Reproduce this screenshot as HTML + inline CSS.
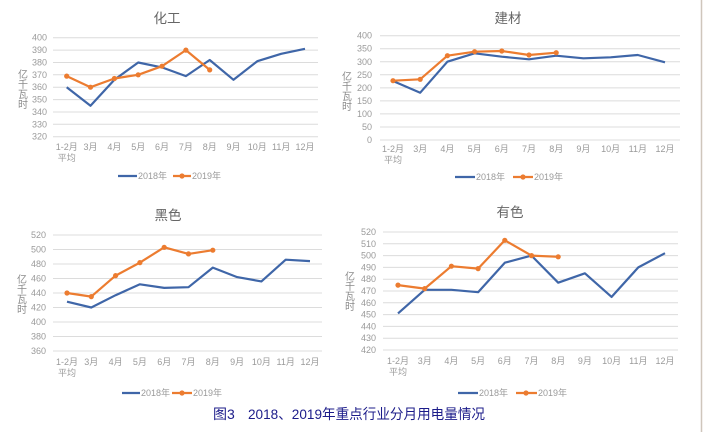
<!DOCTYPE html>
<html><head><meta charset="utf-8"><style>
html,body{margin:0;padding:0;background:#fff;}
svg{display:block;}
text{font-family:"Liberation Sans","Noto Sans CJK SC",sans-serif;}
.t{font-size:9px;fill:#9a9a9a;}
.ti{font-size:13.5px;fill:#666;}
.yt{font-size:10px;fill:#8a8a8a;}
.g{stroke:#dcdcdc;stroke-width:1;}
.b{fill:none;stroke:#3f66a8;stroke-width:2.2;stroke-linejoin:round;}
.o{fill:none;stroke:#ec7c30;stroke-width:2.2;stroke-linejoin:round;}
.m{fill:#ec7c30;}
</style></head><body>
<svg width="705" height="432" viewBox="0 0 705 432" xmlns="http://www.w3.org/2000/svg">
<rect width="705" height="432" fill="#fff"/>
<line x1="701.5" y1="0" x2="701.5" y2="432" stroke="#cfc6bc" stroke-width="1.5"/>

<!-- Panel 1 化工 -->
<text class="ti" x="167" y="23" text-anchor="middle">化工</text>
<g>
<line class="g" x1="53" x2="318" y1="37.7" y2="37.7"/><line class="g" x1="53" x2="318" y1="50.1" y2="50.1"/><line class="g" x1="53" x2="318" y1="62.5" y2="62.5"/><line class="g" x1="53" x2="318" y1="74.8" y2="74.8"/><line class="g" x1="53" x2="318" y1="87.2" y2="87.2"/><line class="g" x1="53" x2="318" y1="99.6" y2="99.6"/><line class="g" x1="53" x2="318" y1="112" y2="112"/><line class="g" x1="53" x2="318" y1="124.3" y2="124.3"/><line class="g" x1="53" x2="318" y1="136.7" y2="136.7"/>
</g>
<g class="t" text-anchor="end">
<text x="47" y="40.7">400</text><text x="47" y="53.1">390</text><text x="47" y="65.5">380</text><text x="47" y="77.8">370</text><text x="47" y="90.2">360</text><text x="47" y="102.6">350</text><text x="47" y="115">340</text><text x="47" y="127.3">330</text><text x="47" y="139.7">320</text>
</g>
<g class="yt" text-anchor="middle"><text x="23" y="78">亿</text><text x="23" y="88">千</text><text x="23" y="98">瓦</text><text x="23" y="108">时</text></g>
<g class="t" text-anchor="middle">
<text x="66.7" y="150">1-2月</text><text x="66.7" y="161">平均</text><text x="90.5" y="150">3月</text><text x="114.4" y="150">4月</text><text x="138.2" y="150">5月</text><text x="162" y="150">6月</text><text x="185.9" y="150">7月</text><text x="209.7" y="150">8月</text><text x="233.5" y="150">9月</text><text x="257.3" y="150">10月</text><text x="281.2" y="150">11月</text><text x="305" y="150">12月</text>
</g>
<polyline class="b" points="66.7,87.2 90.5,105.8 114.4,79.8 138.2,62.5 162,67.4 185.9,76.1 209.7,60 233.5,79.8 257.3,61.2 281.2,53.8 305,48.8"/>
<polyline class="o" points="66.7,76.1 90.5,87.2 114.4,78.5 138.2,74.8 162,66.2 185.9,50.1 209.7,69.9"/>
<g class="m"><circle cx="66.7" cy="76.1" r="2.6"/><circle cx="90.5" cy="87.2" r="2.6"/><circle cx="114.4" cy="78.5" r="2.6"/><circle cx="138.2" cy="74.8" r="2.6"/><circle cx="162" cy="66.2" r="2.6"/><circle cx="185.9" cy="50.1" r="2.6"/><circle cx="209.7" cy="69.9" r="2.6"/></g>
<line x1="118" x2="137" y1="176" y2="176" stroke="#3f66a8" stroke-width="2.2"/>
<text class="t" x="138" y="179">2018年</text>
<line x1="173" x2="191" y1="176" y2="176" stroke="#ec7c30" stroke-width="2.2"/><circle class="m" cx="182" cy="176" r="2.6"/>
<text class="t" x="192" y="179">2019年</text>

<!-- Panel 2 建材 -->
<text class="ti" x="508" y="23" text-anchor="middle">建材</text>
<g>
<line class="g" x1="380" x2="680" y1="35.7" y2="35.7"/><line class="g" x1="380" x2="680" y1="48.7" y2="48.7"/><line class="g" x1="380" x2="680" y1="61.8" y2="61.8"/><line class="g" x1="380" x2="680" y1="74.8" y2="74.8"/><line class="g" x1="380" x2="680" y1="87.9" y2="87.9"/><line class="g" x1="380" x2="680" y1="100.9" y2="100.9"/><line class="g" x1="380" x2="680" y1="113.9" y2="113.9"/><line class="g" x1="380" x2="680" y1="127" y2="127"/><line class="g" x1="380" x2="680" y1="140" y2="140"/>
</g>
<g class="t" text-anchor="end">
<text x="372" y="38.7">400</text><text x="372" y="51.7">350</text><text x="372" y="64.8">300</text><text x="372" y="77.8">250</text><text x="372" y="90.9">200</text><text x="372" y="103.9">150</text><text x="372" y="116.9">100</text><text x="372" y="130">50</text><text x="372" y="143">0</text>
</g>
<g class="yt" text-anchor="middle"><text x="347" y="80">亿</text><text x="347" y="90">千</text><text x="347" y="100">瓦</text><text x="347" y="110">时</text></g>
<g class="t" text-anchor="middle">
<text x="393" y="152">1-2月</text><text x="393" y="163">平均</text><text x="420.2" y="152">3月</text><text x="447.4" y="152">4月</text><text x="474.6" y="152">5月</text><text x="501.8" y="152">6月</text><text x="529" y="152">7月</text><text x="556.2" y="152">8月</text><text x="583.4" y="152">9月</text><text x="610.6" y="152">10月</text><text x="637.8" y="152">11月</text><text x="665" y="152">12月</text>
</g>
<polyline class="b" points="393,81 420.2,92.7 447.4,61.7 474.6,53.3 501.8,56.7 529,59.3 556.2,55.7 583.4,58.3 610.6,57.3 637.8,55 665,62.3"/>
<polyline class="o" points="393,80.7 420.2,79.3 447.4,55.7 474.6,51.7 501.8,51 529,55 556.2,52.7"/>
<g class="m"><circle cx="393" cy="80.7" r="2.6"/><circle cx="420.2" cy="79.3" r="2.6"/><circle cx="447.4" cy="55.7" r="2.6"/><circle cx="474.6" cy="51.7" r="2.6"/><circle cx="501.8" cy="51" r="2.6"/><circle cx="529" cy="55" r="2.6"/><circle cx="556.2" cy="52.7" r="2.6"/></g>
<line x1="455" x2="475" y1="177" y2="177" stroke="#3f66a8" stroke-width="2.2"/>
<text class="t" x="476" y="180">2018年</text>
<line x1="513" x2="533" y1="177" y2="177" stroke="#ec7c30" stroke-width="2.2"/><circle class="m" cx="523" cy="177" r="2.6"/>
<text class="t" x="534" y="180">2019年</text>

<!-- Panel 3 黑色 -->
<text class="ti" x="168" y="220" text-anchor="middle">黑色</text>
<g>
<line class="g" x1="53" x2="322" y1="235" y2="235"/><line class="g" x1="53" x2="322" y1="249.5" y2="249.5"/><line class="g" x1="53" x2="322" y1="264" y2="264"/><line class="g" x1="53" x2="322" y1="278.5" y2="278.5"/><line class="g" x1="53" x2="322" y1="293" y2="293"/><line class="g" x1="53" x2="322" y1="307.5" y2="307.5"/><line class="g" x1="53" x2="322" y1="322" y2="322"/><line class="g" x1="53" x2="322" y1="336.5" y2="336.5"/><line class="g" x1="53" x2="322" y1="351" y2="351"/>
</g>
<g class="t" text-anchor="end">
<text x="46" y="238">520</text><text x="46" y="252.5">500</text><text x="46" y="267">480</text><text x="46" y="281.5">460</text><text x="46" y="296">440</text><text x="46" y="310.5">420</text><text x="46" y="325">400</text><text x="46" y="339.5">380</text><text x="46" y="354">360</text>
</g>
<g class="yt" text-anchor="middle"><text x="22" y="283">亿</text><text x="22" y="293">千</text><text x="22" y="303">瓦</text><text x="22" y="313">时</text></g>
<g class="t" text-anchor="middle">
<text x="67" y="365">1-2月</text><text x="67" y="376">平均</text><text x="91.3" y="365">3月</text><text x="115.6" y="365">4月</text><text x="139.9" y="365">5月</text><text x="164.2" y="365">6月</text><text x="188.5" y="365">7月</text><text x="212.8" y="365">8月</text><text x="237.1" y="365">9月</text><text x="261.4" y="365">10月</text><text x="285.7" y="365">11月</text><text x="310" y="365">12月</text>
</g>
<polyline class="b" points="67,301.7 91.3,307.5 115.6,295.2 139.9,284.3 164.2,287.9 188.5,287.2 212.8,267.6 237.1,277.1 261.4,281.4 285.7,259.7 310,261.1"/>
<polyline class="o" points="67,293 91.3,296.6 115.6,275.6 139.9,262.6 164.2,247.3 188.5,253.9 212.8,250.2"/>
<g class="m"><circle cx="67" cy="293" r="2.6"/><circle cx="91.3" cy="296.6" r="2.6"/><circle cx="115.6" cy="275.6" r="2.6"/><circle cx="139.9" cy="262.6" r="2.6"/><circle cx="164.2" cy="247.3" r="2.6"/><circle cx="188.5" cy="253.9" r="2.6"/><circle cx="212.8" cy="250.2" r="2.6"/></g>
<line x1="122" x2="140" y1="393" y2="393" stroke="#3f66a8" stroke-width="2.2"/>
<text class="t" x="141" y="396">2018年</text>
<line x1="172" x2="192" y1="393" y2="393" stroke="#ec7c30" stroke-width="2.2"/><circle class="m" cx="182" cy="393" r="2.6"/>
<text class="t" x="193" y="396">2019年</text>

<!-- Panel 4 有色 -->
<text class="ti" x="510" y="217" text-anchor="middle">有色</text>
<g>
<line class="g" x1="383" x2="678" y1="232" y2="232"/><line class="g" x1="383" x2="678" y1="243.8" y2="243.8"/><line class="g" x1="383" x2="678" y1="255.6" y2="255.6"/><line class="g" x1="383" x2="678" y1="267.4" y2="267.4"/><line class="g" x1="383" x2="678" y1="279.2" y2="279.2"/><line class="g" x1="383" x2="678" y1="291" y2="291"/><line class="g" x1="383" x2="678" y1="302.8" y2="302.8"/><line class="g" x1="383" x2="678" y1="314.6" y2="314.6"/><line class="g" x1="383" x2="678" y1="326.4" y2="326.4"/><line class="g" x1="383" x2="678" y1="338.2" y2="338.2"/><line class="g" x1="383" x2="678" y1="350" y2="350"/>
</g>
<g class="t" text-anchor="end">
<text x="376" y="235">520</text><text x="376" y="246.8">510</text><text x="376" y="258.6">500</text><text x="376" y="270.4">490</text><text x="376" y="282.2">480</text><text x="376" y="294">470</text><text x="376" y="305.8">460</text><text x="376" y="317.6">450</text><text x="376" y="329.4">440</text><text x="376" y="341.2">430</text><text x="376" y="353">420</text>
</g>
<g class="yt" text-anchor="middle"><text x="350" y="280">亿</text><text x="350" y="290">千</text><text x="350" y="300">瓦</text><text x="350" y="310">时</text></g>
<g class="t" text-anchor="middle">
<text x="398" y="364">1-2月</text><text x="398" y="375">平均</text><text x="424.7" y="364">3月</text><text x="451.4" y="364">4月</text><text x="478.1" y="364">5月</text><text x="504.8" y="364">6月</text><text x="531.5" y="364">7月</text><text x="558.2" y="364">8月</text><text x="584.9" y="364">9月</text><text x="611.6" y="364">10月</text><text x="638.3" y="364">11月</text><text x="665" y="364">12月</text>
</g>
<polyline class="b" points="398,313.4 424.7,289.8 451.4,289.8 478.1,292.2 504.8,262.7 531.5,255.6 558.2,282.7 584.9,273.3 611.6,296.9 638.3,267.4 665,253.2"/>
<polyline class="o" points="398,285.1 424.7,288.6 451.4,266.2 478.1,268.6 504.8,240.3 531.5,255.6 558.2,256.8"/>
<g class="m"><circle cx="398" cy="285.1" r="2.6"/><circle cx="424.7" cy="288.6" r="2.6"/><circle cx="451.4" cy="266.2" r="2.6"/><circle cx="478.1" cy="268.6" r="2.6"/><circle cx="504.8" cy="240.3" r="2.6"/><circle cx="531.5" cy="255.6" r="2.6"/><circle cx="558.2" cy="256.8" r="2.6"/></g>
<line x1="458" x2="478" y1="393" y2="393" stroke="#3f66a8" stroke-width="2.2"/>
<text class="t" x="479" y="396">2018年</text>
<line x1="516" x2="537" y1="393" y2="393" stroke="#ec7c30" stroke-width="2.2"/><circle class="m" cx="526" cy="393" r="2.6"/>
<text class="t" x="538" y="396">2019年</text>

<!-- Caption -->
<text x="213" y="419" font-size="14" fill="#1c1c8a">图3</text>
<text x="248" y="419" font-size="14" fill="#1c1c8a" textLength="237" lengthAdjust="spacingAndGlyphs">2018、2019年重点行业分月用电量情况</text>
</svg>
</body></html>
